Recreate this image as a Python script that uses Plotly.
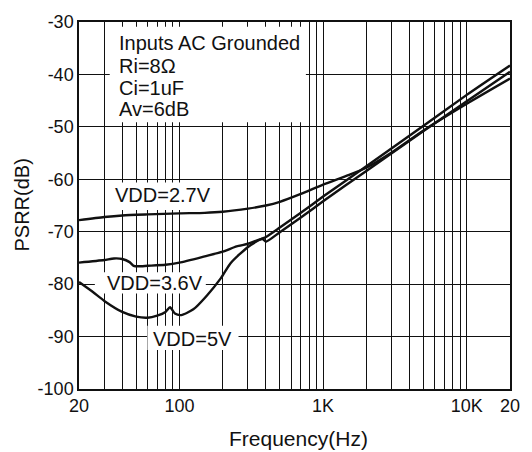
import plotly.graph_objects as go

# ---------------- data ----------------
freq_27 = [20, 30, 40, 60, 100, 150, 200, 300, 400, 500, 700, 1000, 1500, 2000, 3000, 5000, 10000, 20000]
psrr_27 = [-67.8, -67.2, -66.9, -66.7, -66.5, -66.4, -66.2, -65.6, -65.0, -64.3, -62.8, -61.0, -59.2, -57.8, -54.9, -50.7, -45.6, -40.8]

freq_36 = [20, 30, 35, 40, 45, 48, 52, 60, 80, 100, 150, 200, 250, 300, 350, 380, 400, 500, 700, 1000, 2000, 5000, 10000, 20000]
psrr_36 = [-75.9, -75.4, -75.1, -75.2, -75.8, -76.5, -76.6, -76.5, -76.3, -75.9, -74.7, -73.8, -72.8, -72.3, -71.6, -71.4, -71.9, -70.1, -67.3, -64.2, -58.4, -50.8, -45.1, -39.5]

freq_5 = [20, 25, 30, 40, 50, 60, 70, 80, 86, 93, 103, 125, 155, 195, 227, 300, 370, 400, 500, 700, 1000, 2000, 5000, 10000, 20000]
psrr_5 = [-79.6, -81.5, -83.2, -85.3, -86.2, -86.4, -86.0, -85.3, -84.4, -85.6, -85.9, -84.8, -82.2, -78.8, -76.0, -72.9, -71.4, -71.0, -69.2, -66.4, -63.3, -57.5, -49.8, -43.9, -38.3]

x_grid = [20, 30, 40, 50, 60, 70, 80, 90, 100, 200, 300, 400, 500, 600, 700, 800, 900,
          1000, 2000, 3000, 4000, 5000, 6000, 7000, 8000, 9000, 10000, 20000]
x_labels = {20: "20", 100: "100", 1000: "1K", 10000: "10K", 20000: "20"}
y_ticks = [-30, -40, -50, -60, -70, -80, -90, -100]

FONT = "Liberation Sans, Arial, sans-serif"
INK = "#111"

L, R, T, B = 79, 514, 12, 389
W, H = 532, 452
PW, PH = R - L, B - T
XMIN, XMAX = 20.0, 20000.0
YMIN, YMAX = -100.0, -30.0


def px(x):
    return (x - L) / PW


def py(y):
    return (B - y) / PH


def dx(x):  # pixel -> data (log x)
    return XMIN * (XMAX / XMIN) ** px(x)


def dy(y):
    return YMIN + (YMAX - YMIN) * py(y)


fig = go.Figure()

# white label backgrounds: drawn as traces so they sit above gridlines but below curves
boxes = [(110, 17, 308, 115), (108, 177, 218, 205), (95, 269, 207, 291), (148, 324, 240, 349)]
for x0, y0, x1, y1 in boxes:
    fig.add_trace(go.Scatter(x=[dx(x0), dx(x1), dx(x1), dx(x0), dx(x0)],
                             y=[dy(y0), dy(y0), dy(y1), dy(y1), dy(y0)],
                             mode="lines", fill="toself", fillcolor="white", line=dict(width=0, color="white"),
                             showlegend=False, hoverinfo="skip"))

for f, p in [(freq_27, psrr_27), (freq_36, psrr_36), (freq_5, psrr_5)]:
    fig.add_trace(go.Scatter(x=f, y=p, mode="lines",
                             line=dict(color=INK, width=2.4, shape="spline", smoothing=0.6),
                             showlegend=False, hoverinfo="skip"))

lab_font = dict(family=FONT, size=20, color=INK)
info = ["Inputs AC Grounded", "Ri=8Ω", "Ci=1uF", "Av=6dB"]
info_y = [34, 57, 80, 101]
for t, yy in zip(info, info_y):
    fig.add_annotation(text=t, xref="paper", yref="paper", x=px(117), y=py(yy), xanchor="left", yanchor="middle",
                       showarrow=False, font=lab_font)

for t, cx, cy in [("VDD=2.7V", 163.5, 190), ("VDD=3.6V", 155.5, 280), ("VDD=5V", 193.5, 337.5)]:
    fig.add_annotation(text=t, xref="paper", yref="paper", x=px(cx), y=py(cy), xanchor="center", yanchor="middle",
                       showarrow=False, font=lab_font)

fig.add_annotation(text="Frequency(Hz)", xref="paper", yref="paper", x=px(301), y=py(440), xanchor="center",
                   yanchor="middle", showarrow=False, font=dict(family=FONT, size=21, color=INK))
fig.add_annotation(text="PSRR(dB)", xref="paper", yref="paper", x=px(21), y=py(200), xanchor="center",
                   yanchor="middle", showarrow=False, textangle=-90, font=dict(family=FONT, size=20, color=INK))

fig.update_xaxes(type="log", range=[1.30103, 4.30103], tickvals=x_grid,
                 ticktext=[x_labels.get(v, "") for v in x_grid], showgrid=True, gridcolor=INK, gridwidth=1,
                 showline=True, linecolor=INK, linewidth=1.5, mirror=True, ticks="", zeroline=False,
                 tickfont=dict(family=FONT, size=18, color=INK))
fig.update_yaxes(range=[YMIN, YMAX], tickvals=y_ticks, ticktext=[str(v) for v in y_ticks], showgrid=True,
                 gridcolor=INK, gridwidth=1, showline=True, linecolor=INK, linewidth=1.5, mirror=True,
                 ticks="", zeroline=False, tickfont=dict(family=FONT, size=18, color=INK))

fig.update_layout(width=W, height=H, margin=dict(l=L, r=W - R, t=T, b=H - B), plot_bgcolor="white",
                  paper_bgcolor="white", showlegend=False)

fig.write_html("out.html")
